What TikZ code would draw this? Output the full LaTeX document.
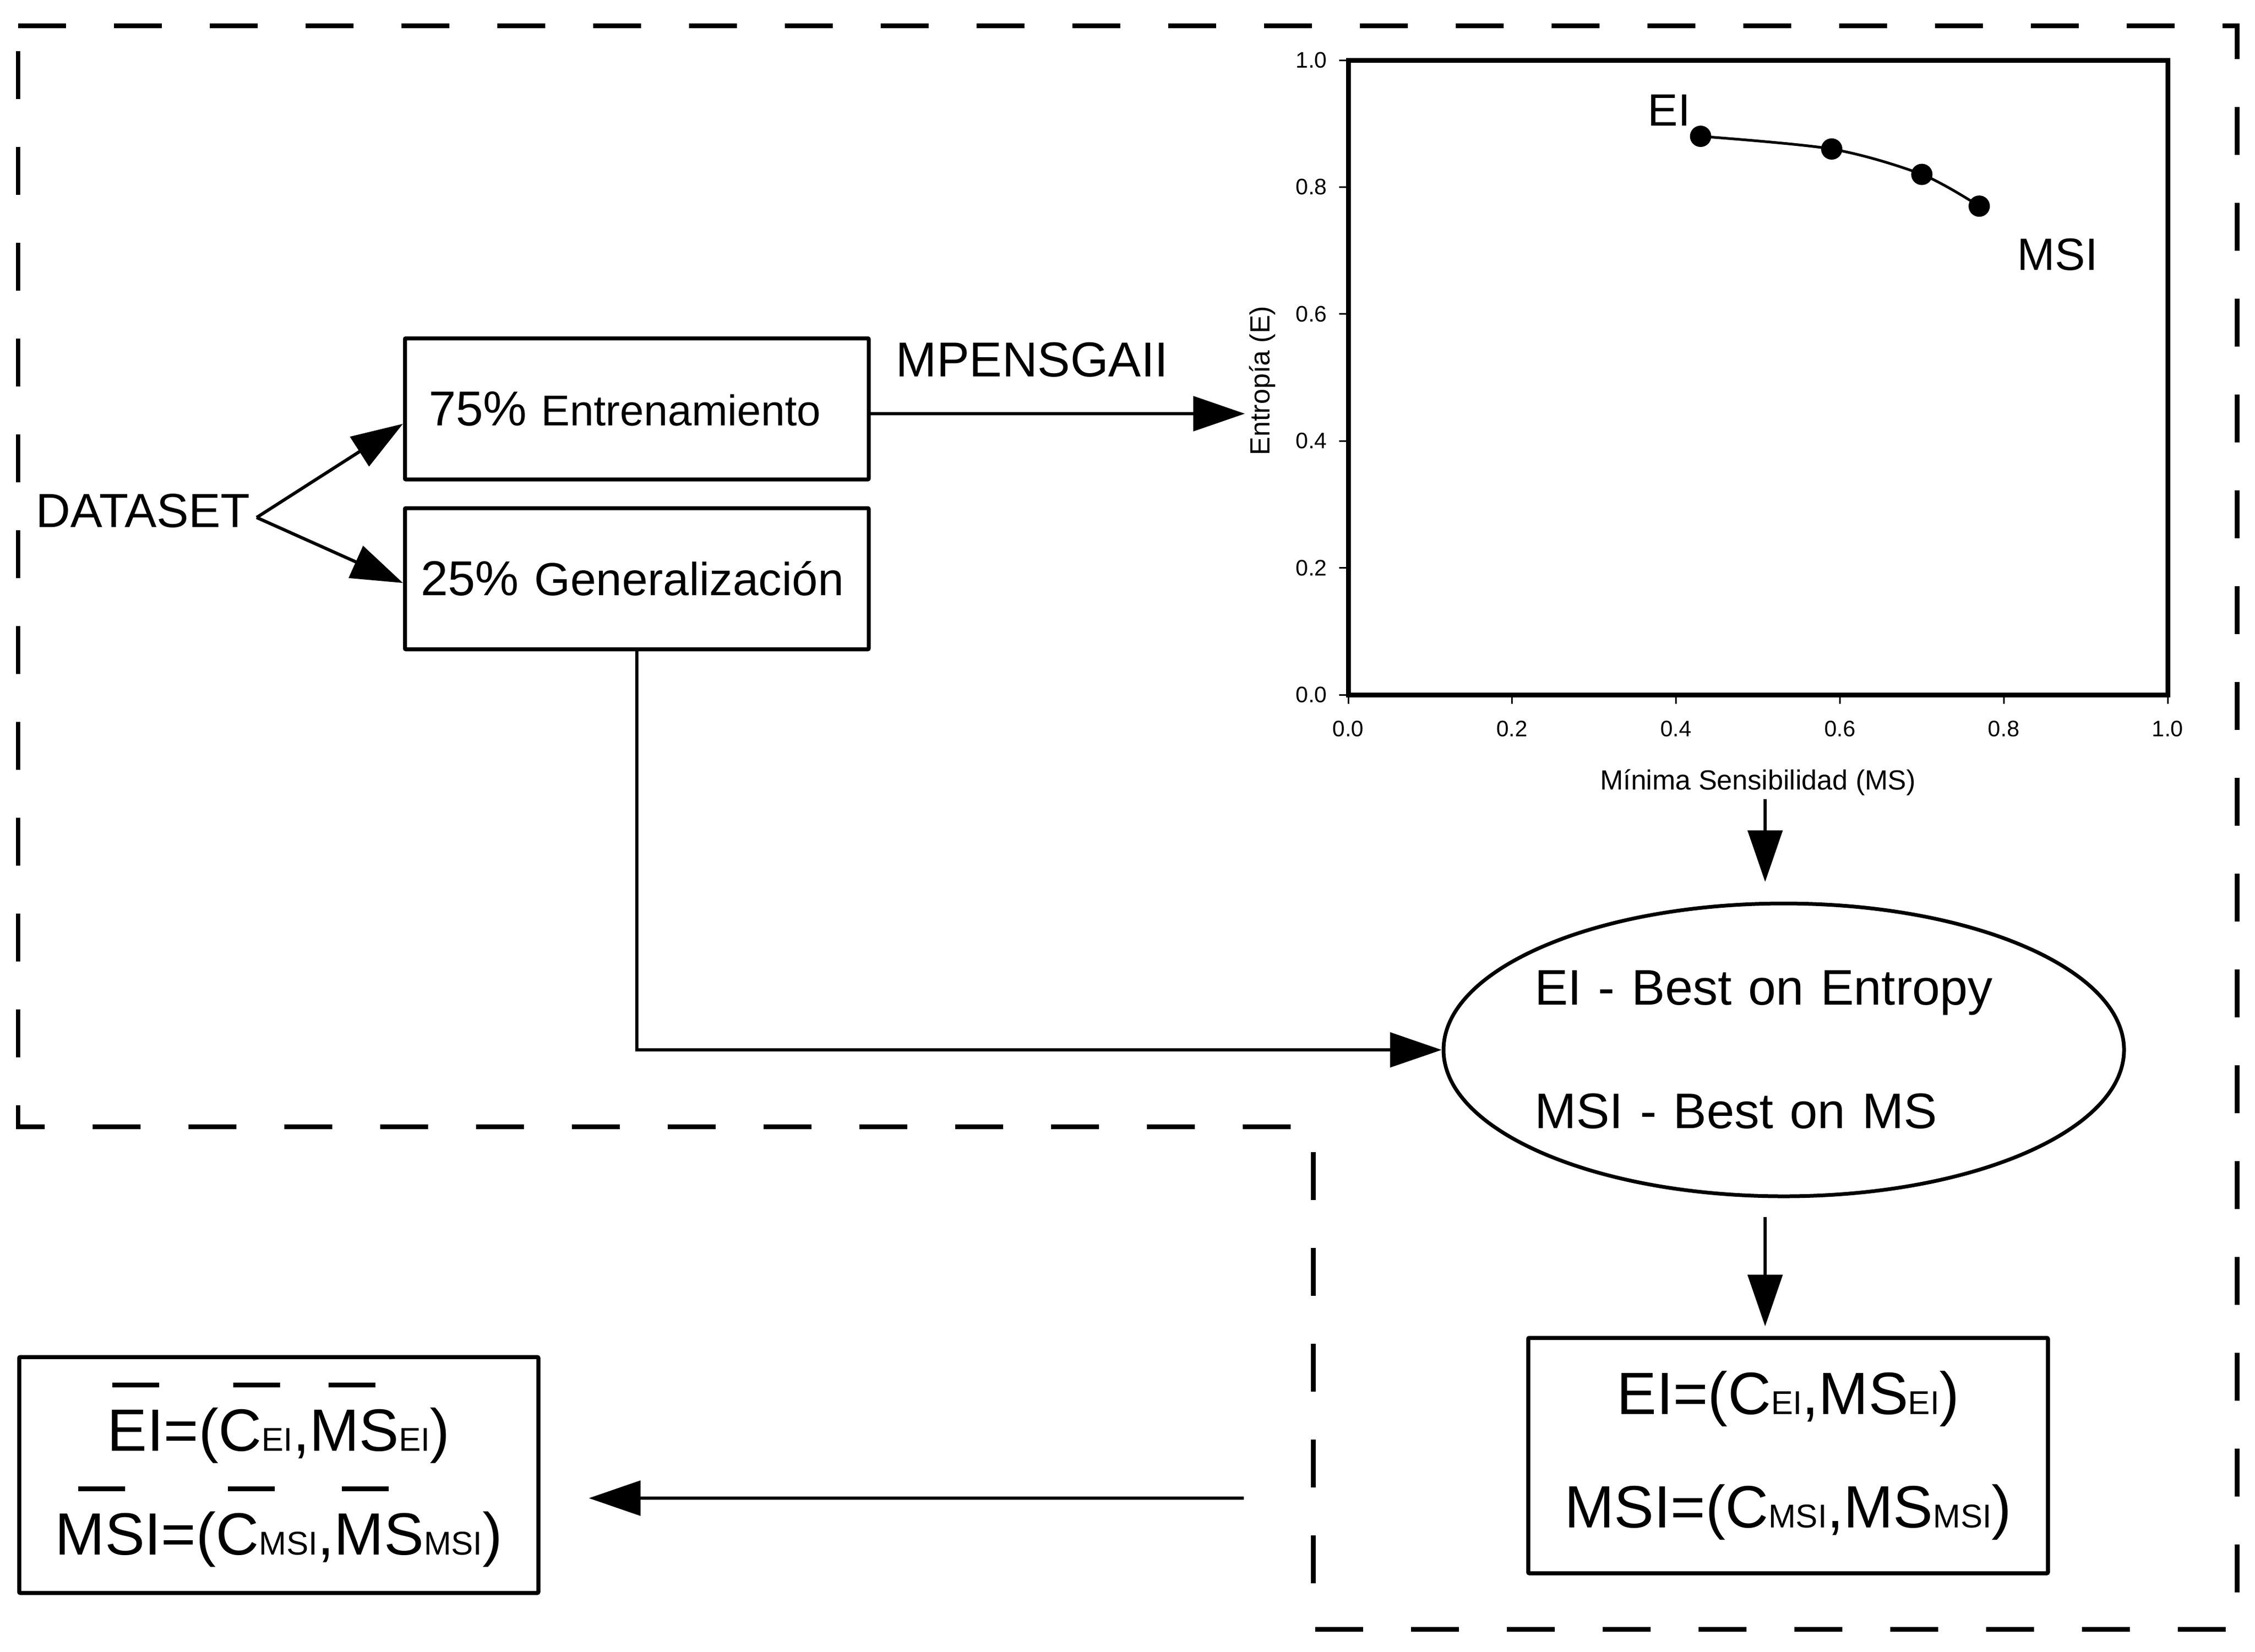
\documentclass[tikz,border=0pt]{standalone}
\usepackage{fontspec}
\setmainfont{Liberation Sans}
\usetikzlibrary{arrows.meta,positioning,shapes.geometric}

\newcommand{\subtxt}[1]{{\fontsize{17.6pt}{20pt}\selectfont #1}}
\newcommand{\obar}[1]{\rlap{\hspace{#1}\rule[1.07em]{0.785em}{0.08em}}}

\begin{document}
\begin{tikzpicture}[
  box/.style={draw, line width=0.075cm, rounded corners=0.02cm, inner sep=0pt},
  arr/.style={line width=0.06cm, -{Triangle[length=0.97cm,width=0.65cm]}},
  lab/.style={inner sep=0pt, font=\fontsize{25.6pt}{30pt}\selectfont},
  ticklab/.style={inner sep=0pt, font=\fontsize{12pt}{14pt}\selectfont},
  axlab/.style={inner sep=0pt, font=\fontsize{14.8pt}{17pt}\selectfont}
]
\useasboundingbox (0,0) rectangle (42.35,-31.02);

% Dashed frame
\draw[line width=0.09cm, dash pattern=on 0.9cm off 0.9cm] (0.34,-0.48) -- (42.01,-0.48) -- (42.01,-30.60) -- (24.66,-30.60) -- (24.66,-21.16) -- (0.34,-21.16) -- cycle;

% Data split
\node[lab, anchor=base west] (data) at (0.67,-9.90) {DATASET};
\coordinate (fork) at (4.82,-9.72);
\node[box, minimum width=8.71cm, minimum height=2.65cm, text width=7.82cm, align=left, font=\fontsize{23pt}{28pt}\selectfont] (train) at (11.96,-7.68) {{\fontsize{26.2pt}{31pt}\selectfont 75\% }Entrenamiento};
\node[box, minimum width=8.71cm, minimum height=2.65cm, text width=8.12cm, align=left, font=\fontsize{24.8pt}{29pt}\selectfont] (gen) at (11.96,-10.87) {{\fontsize{26.2pt}{31pt}\selectfont 25\% }Generalización};
\draw[arr] (fork) -- ([yshift=-0.28cm]train.west);
\draw[arr] (fork) -- ([yshift=-0.08cm]gen.west);

% Optimisation
\node[lab, anchor=base west, font=\fontsize{26.2pt}{31pt}\selectfont] (algo) at (16.82,-7.07) {MPENSGAII};
\coordinate (front) at (23.38,-7.77);
\draw[arr] (train.east |- front) -- (front);

% Pareto front
\begin{scope}[shift={(25.32,-13.05)}, x=15.39cm, y=11.92cm]
\draw[line width=0.09cm] (0,0) rectangle (1,1);
\foreach \v/\l [count=\i] in {0/0.0,0.2/0.2,0.4/0.4,0.6/0.6,0.8/0.8,1/1.0}{
  \draw[line width=0.03cm] (\v,0) -- ++(0,-0.17cm);
  \draw[line width=0.03cm] (0,\v) -- ++(-0.17cm,0);
  \node[ticklab, yshift=-0.64cm] (xt\i) at (\v,0) {\l};
  \node[ticklab, anchor=east, xshift=-0.39cm] (yt\i) at (0,\v) {\l};
}
\node[axlab, rotate=90] (ylab) at (-0.105,0.495) {Entropía (E)};
\node[axlab] (xlab) at (0.5,-0.138) {Mínima Sensibilidad (MS)};
\draw[line width=0.05cm] plot[smooth] coordinates {(0.43,0.88) (0.59,0.86) (0.70,0.82) (0.77,0.77)};
\foreach \px/\py in {0.43/0.88,0.59/0.86,0.70/0.82,0.77/0.77}
  \fill (\px,\py) circle[radius=0.2cm];
\node[lab, anchor=base west, font=\fontsize{24.2pt}{28pt}\selectfont] (ei) at (0.365,0.896) {EI};
\node[lab, anchor=base west, font=\fontsize{24.2pt}{28pt}\selectfont] (msi) at (0.816,0.669) {MSI};
\end{scope}

% Selection
\node[ellipse, draw, line width=0.07cm, minimum width=12.78cm, minimum height=5.5cm, inner sep=0pt] (sel) at (33.50,-19.72) {};
\node[inner sep=0pt, text width=9.36cm, align=left, font=\fontsize{26.7pt}{66pt}\selectfont] (seltext) at (sel.center) {EI - Best on Entropy\\MSI - Best on MS};
\coordinate (plotout) at (33.15,-15.01);
\draw[arr, shorten >=0.37cm] (plotout) -- (plotout |- sel.north);
\draw[arr] (gen.south) |- (sel.west);

% Chosen pair
\node[box, minimum width=9.76cm, minimum height=4.42cm, align=center, font=\fontsize{31.9pt}{60.6pt}\selectfont] (pair) at (33.58,-27.34) {EI=(C\subtxt{EI},MS\subtxt{EI})\\MSI=(C\subtxt{MSI},MS\subtxt{MSI})};
\draw[arr, shorten <=0.35cm, shorten >=0.18cm] (sel.south -| plotout) -- (pair.north -| plotout);

% Averaged pair
\node[box, minimum width=9.75cm, minimum height=4.43cm, align=center, font=\fontsize{31.9pt}{55.5pt}\selectfont] (avg) at (5.235,-27.705) {\obar{0.08em}EI=(\obar{0.24em}C\subtxt{EI},\obar{0.32em}MS\subtxt{EI})\\\obar{0.39em}MSI=(\obar{0.2em}C\subtxt{MSI},\obar{0.13em}MS\subtxt{MSI})};
\coordinate (back) at (23.36,-28.14);
\draw[arr, shorten >=0.91cm] (back) -- (back -| avg.east);
\end{tikzpicture}
\end{document}
